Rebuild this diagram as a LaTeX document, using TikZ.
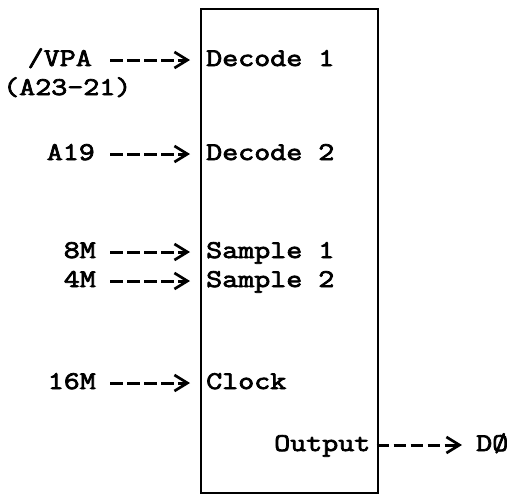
\documentclass[tikz,border=0pt]{standalone}
\usepackage{fontspec}
\newfontfamily\mono[FakeStretch=1.22, FakeBold=3]{Latin Modern Mono}
\usetikzlibrary{arrows.meta}
\tikzset{
  lbl/.style={inner sep=0pt, text height=12pt, text depth=0pt, font=\mono\fontsize{25.5}{30}\selectfont},
  blk/.style={draw, line width=2.4pt, inner sep=0pt, minimum width=177pt, minimum height=484pt, anchor=north west},
  sig/.style={line width=3pt, dash pattern=on 12.5pt off 4.5pt,
    -{Straight Barb[length=13pt, width=16pt, line width=2.7pt]}}
}
\begin{document}
\begin{tikzpicture}[x=1pt,y=-1pt]
\useasboundingbox (0,0) rectangle (516,493);
\node[blk] (box) at (200,8) {};
% inputs
\node[lbl, anchor=base east] (vpa) at (92,66) {/VPA};
\node[lbl, anchor=base west] (addr) at (3,95) {(A23-21)};
\node[lbl, anchor=base east] (a19) at (95,160) {A19};
\node[lbl, anchor=base east] (m8) at (96,258) {8M};
\node[lbl, anchor=base east] (m4) at (96,287) {4M};
\node[lbl, anchor=base east] (m16) at (96,389) {16M};
% ports inside the box
\node[lbl, anchor=base west] (dec1) at (206,66) {Decode 1};
\node[lbl, anchor=base west] (dec2) at (206,160) {Decode 2};
\node[lbl, anchor=base west] (smp1) at (206,258) {Sample 1};
\node[lbl, anchor=base west] (smp2) at (206,287) {Sample 2};
\node[lbl, anchor=base west] (clk) at (206,389) {Clock};
\node[lbl, anchor=base west] (out) at (274,451) {Output};
\node[lbl, anchor=base west] (d0) at (476,451) {DØ};
% connectors
\draw[sig, shorten <=18pt, shorten >=16pt] (vpa.east) -- (dec1.west);
\draw[sig, shorten <=15pt, shorten >=16pt] (a19.east) -- (dec2.west);
\draw[sig, shorten <=14pt, shorten >=16pt] (m8.east) -- (smp1.west);
\draw[sig, shorten <=14pt, shorten >=16pt] (m4.east) -- (smp2.west);
\draw[sig, shorten <=14pt, shorten >=16pt] (m16.east) -- (clk.west);
\draw[sig, shorten <=6pt, shorten >=14pt] (out.east) -- (d0.west);
\end{tikzpicture}
\end{document}
